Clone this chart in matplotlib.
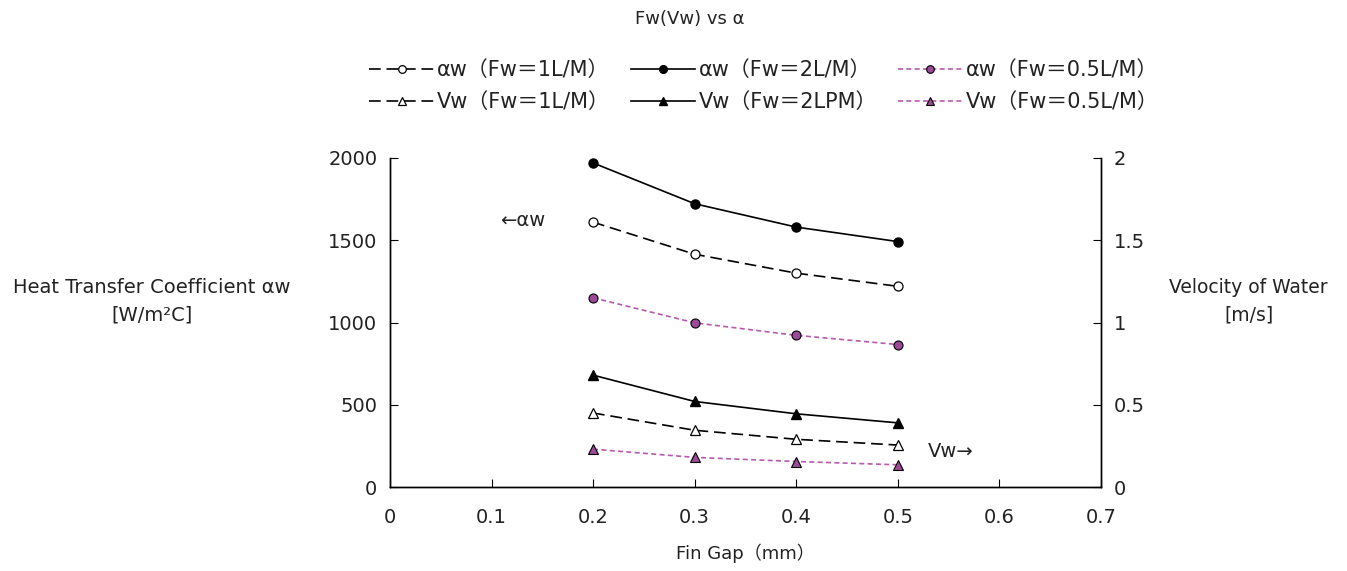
import matplotlib
matplotlib.use("Agg")
from matplotlib import pyplot as plt

plt.rcParams['font.family'] = ['DejaVu Sans', 'Noto Sans CJK JP']

# data
fin_gap = [0.2, 0.3, 0.4, 0.5]
aw_fw1 = [1610, 1415, 1300, 1220]
aw_fw2 = [1970, 1722, 1580, 1492]
aw_fw05 = [1150, 998, 922, 866]
vw_fw1 = [0.45, 0.345, 0.29, 0.255]
vw_fw2 = [0.68, 0.52, 0.445, 0.39]
vw_fw05 = [0.23, 0.18, 0.155, 0.135]

purple_line = "#B55AAE"
purple_face = "#9C4A97"
txt = "#222222"

fig = plt.figure(figsize=(13.47, 5.71), dpi=100)
ax = fig.add_axes([0.2895, 0.1471, 0.5278, 0.5762])
ax2 = ax.twinx()

ms = 6.5
dash = (0, (7, 3.5))
fine = (0, (3, 2))
h1, = ax.plot(fin_gap, aw_fw1, color="black", lw=1.2, ls=dash,
              marker="o", ms=ms, mfc="white", mec="black", mew=0.9,
              label="αw（Fw＝1L/M）")
h2, = ax.plot(fin_gap, aw_fw2, color="black", lw=1.2, ls="-",
              marker="o", ms=ms, mfc="black", mec="black",
              label="αw（Fw＝2L/M）")
h3, = ax.plot(fin_gap, aw_fw05, color=purple_line, lw=1.2, ls=fine,
              marker="o", ms=ms, mfc=purple_face, mec="black", mew=0.8,
              label="αw（Fw＝0.5L/M）")
h4, = ax2.plot(fin_gap, vw_fw1, color="black", lw=1.2, ls=dash,
               marker="^", ms=ms, mfc="white", mec="black", mew=0.9,
               label="Vw（Fw＝1L/M）")
h5, = ax2.plot(fin_gap, vw_fw2, color="black", lw=1.2, ls="-",
               marker="^", ms=ms, mfc="black", mec="black",
               label="Vw（Fw＝2LPM）")
h6, = ax2.plot(fin_gap, vw_fw05, color=purple_line, lw=1.2, ls=fine,
               marker="^", ms=ms, mfc=purple_face, mec="black", mew=0.8,
               label="Vw（Fw＝0.5L/M）")

ax.set_xlim(0, 0.7)
ax.set_ylim(0, 2000)
ax2.set_ylim(0, 2)
ax.set_xticks([0, 0.1, 0.2, 0.3, 0.4, 0.5, 0.6, 0.7])
ax.set_xticklabels(["0", "0.1", "0.2", "0.3", "0.4", "0.5", "0.6", "0.7"])
ax.set_yticks([0, 500, 1000, 1500, 2000])
ax2.set_yticks([0, 0.5, 1, 1.5, 2])
ax2.set_yticklabels(["0", "0.5", "1", "1.5", "2"])

for a in (ax, ax2):
    a.spines["top"].set_visible(False)
    for s in a.spines.values():
        s.set_linewidth(1.0)
ax.tick_params(axis="both", direction="in", length=6, labelsize=14,
               labelcolor=txt, pad=9)
ax2.tick_params(axis="y", direction="in", length=6, labelsize=14,
                labelcolor=txt, pad=9)
ax.tick_params(axis="x", pad=15)

fig.text(0.113, 0.472, "Heat Transfer Coefficient αw\n[W/m²C]", ha="center", va="center",
         fontsize=14, linespacing=1.55, color=txt)
fig.text(0.927, 0.472, "Velocity of Water\n[m/s]", ha="center", va="center",
         fontsize=13.5, linespacing=1.55, color=txt)
ax.set_xlabel("Fin Gap（mm）", fontsize=13, labelpad=12, color=txt)
fig.text(0.512, 0.966, "Fw(Vw) vs α", ha="center", va="center", fontsize=13, color=txt)

ax.text(0.108, 1623, "←αw", fontsize=14, va="center", ha="left", color=txt)
ax.text(0.53, 213, "Vw→", fontsize=14, va="center", ha="left", color=txt)

leg = fig.legend(handles=[h1, h4, h2, h5, h3, h6], ncol=3, loc="center",
                 bbox_to_anchor=(0.567, 0.849), frameon=False, fontsize=15,
                 handlelength=3.1, handletextpad=0.15, columnspacing=1.0,
                 labelspacing=0.55, markerscale=0.85)
for t in leg.get_texts():
    t.set_color(txt)

fig.savefig("out.png", dpi=100)
